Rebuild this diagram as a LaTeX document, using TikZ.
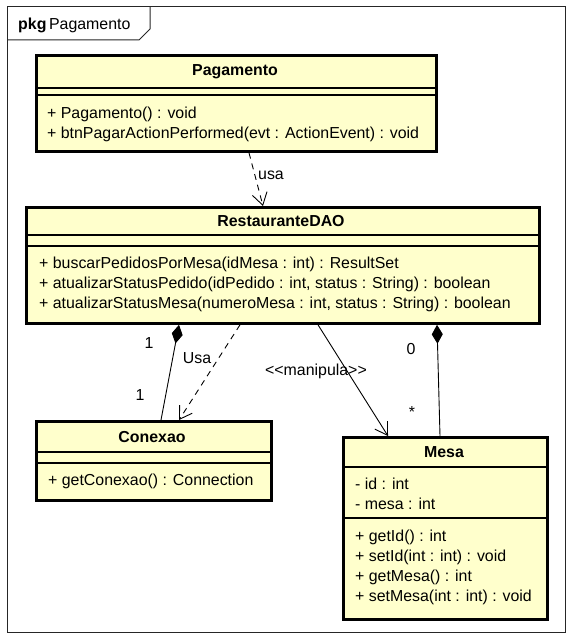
\documentclass[tikz,border=0pt]{standalone}
\usepackage{fontspec}
\setmainfont{Liberation Sans}
\usepackage{xcolor}
\usetikzlibrary{arrows.meta}
\definecolor{classfill}{HTML}{FFFFCC}

\begin{document}
\begin{tikzpicture}[
  x=1pt,
  y=-1pt,
  font=\fontsize{15.9}{20}\selectfont,
  umlclass/.style={
    draw,
    line width=2.8pt,
    fill=classfill,
    anchor=north west,
    inner sep=0pt
  },
  classname/.style={
    anchor=base,
    inner sep=0pt,
    font=\fontsize{15.9}{20}\selectfont\bfseries
  },
  member/.style={
    anchor=base west,
    inner sep=0pt
  },
  compart/.style={
    line width=1.1pt
  },
  lbl/.style={
    inner sep=0pt
  },
  dep/.style={
    -{Straight Barb[length=12pt,width=15pt]},
    dash pattern=on 6pt off 5pt,
    line width=0.9pt
  },
  assoc/.style={
    -{Straight Barb[length=12pt,width=15pt]},
    line width=0.9pt
  },
  compo/.style={
    {Diamond[length=19pt,width=11pt]}-,
    line width=0.9pt
  }
]
\useasboundingbox (0,0) rectangle (574,639);

%-----------------------------
% Package frame
%-----------------------------
\draw[line width=1pt, black!85] (7,7) rectangle (565,632);
\draw[line width=1pt, black!85] (7,40) -- (139,40) -- (150,29) -- (150,7);
\node[member] (pkglbl) at (18,30) {\textbf{pkg}\,Pagamento};

%-----------------------------
% Pagamento
%-----------------------------
\node[umlclass, minimum width=400pt, minimum height=96pt] (pag) at (35,54) {};
\draw[compart] (35,88) -- (435,88);
\draw[compart] (35,95) -- (435,95);
\node[classname] (pagname) at (235,76) {Pagamento};
\node[member] (pagm1) at (47,118.5) {+ Pagamento() : void};
\node[member] (pagm2) at (47,138.5) {+ btnPagarActionPerformed(evt : ActionEvent) : void};

%-----------------------------
% RestauranteDAO
%-----------------------------
\node[umlclass, minimum width=513pt, minimum height=116pt] (dao) at (25,206) {};
\draw[compart] (25,235) -- (538,235);
\draw[compart] (25,246) -- (538,246);
\node[classname] (daoname) at (281,226) {RestauranteDAO};
\node[member] (daom1) at (39,268.5) {+ buscarPedidosPorMesa(idMesa : int) : ResultSet};
\node[member] (daom2) at (39,288.5) {+ atualizarStatusPedido(idPedido : int, status : String) : boolean};
\node[member] (daom3) at (39,308.5) {+ atualizarStatusMesa(numeroMesa : int, status : String) : boolean};

%-----------------------------
% Conexao
%-----------------------------
\node[umlclass, minimum width=235pt, minimum height=79pt] (conexao) at (35,420) {};
\draw[compart] (35,452) -- (270,452);
\draw[compart] (35,463) -- (270,463);
\node[classname] (conname) at (152,442) {Conexao};
\node[member] (conm1) at (48,485) {+ getConexao() : Connection};

%-----------------------------
% Mesa
%-----------------------------
\node[umlclass, minimum width=204pt, minimum height=182pt] (mesa) at (342,436) {};
\draw[compart] (342,467) -- (546,467);
\draw[compart] (342,518) -- (546,518);
\node[classname] (mesaname) at (444,457) {Mesa};
\node[member] (mesaa1) at (355,489) {- id : int};
\node[member] (mesaa2) at (355,509) {- mesa : int};
\node[member] (mesam1) at (355,541) {+ getId() : int};
\node[member] (mesam2) at (355,561) {+ setId(int : int) : void};
\node[member] (mesam3) at (355,581) {+ getMesa() : int};
\node[member] (mesam4) at (355,601) {+ setMesa(int : int) : void};

%-----------------------------
% Relations
%-----------------------------
\draw[dep] ([xshift=214pt]pag.south west) -- ([xshift=238pt]dao.north west);
\node[lbl] (usa1) at (271,175) {usa};

\draw[compo] ([xshift=154pt]dao.south west) -- ([xshift=126pt]conexao.north west);
\node[lbl] (mult1) at (149,343) {1};
\node[lbl] (mult2) at (140,395) {1};

\draw[dep] ([xshift=215pt]dao.south west) -- ([xshift=144pt]conexao.north west);
\node[lbl] (usa2) at (197,358) {Usa};

\draw[assoc] ([xshift=293pt]dao.south west) -- ([xshift=46pt]mesa.north west);
\node[lbl] (manip) at (316,371) {<\kern0pt<manipula>\kern0pt>};

\draw[compo] ([xshift=412pt]dao.south west) -- ([xshift=98pt]mesa.north west);
\node[lbl] (mult3) at (411,349) {0};
\node[lbl] (mult4) at (412,412) {*};

\end{tikzpicture}
\end{document}
